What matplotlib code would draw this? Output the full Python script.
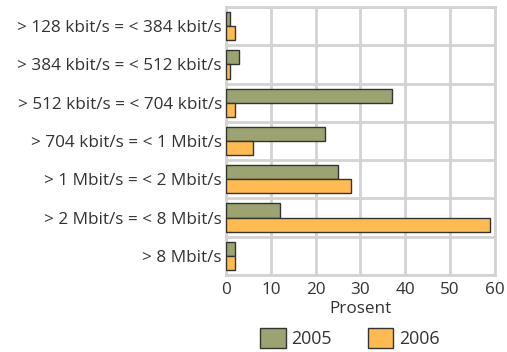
import matplotlib.pyplot as plt
import numpy as np
from matplotlib.patches import Patch

plt.rcParams['font.family'] = ['Open Sans', 'DejaVu Sans']

kategorier = ["> 128 kbit/s = < 384 kbit/s", "> 384 kbit/s = < 512 kbit/s",
              "> 512 kbit/s = < 704 kbit/s", "> 704 kbit/s = < 1 Mbit/s",
              "> 1 Mbit/s = < 2 Mbit/s", "> 2 Mbit/s = < 8 Mbit/s", "> 8 Mbit/s"]
v2005 = [1, 3, 37, 22, 25, 12, 2]
v2006 = [2, 1, 2, 6, 28, 59, 2]

fig = plt.figure(figsize=(5.07, 3.52), dpi=100)
ax = fig.add_axes([0.4458, 0.219, 0.530, 0.761])

y = np.arange(len(kategorier))
h = 0.37
ax.barh(y - h/2, v2005, height=h, color='#9ca370', edgecolor='#333333', linewidth=1, zorder=3)
ax.barh(y + h/2, v2006, height=h, color='#ffbb50', edgecolor='#333333', linewidth=1, zorder=3)

ax.set_ylim(len(kategorier) - 0.5, -0.5)
ax.set_xlim(0, 60)
ax.set_xticks(range(0, 61, 10))
ax.set_yticks(y)
ax.set_yticklabels(kategorier)
ax.set_yticks(np.arange(-0.5, len(kategorier), 1), minor=True)
ax.grid(True, axis='x', color='#d3d3d3', linewidth=2, zorder=0)
ax.grid(True, axis='y', which='minor', color='#d3d3d3', linewidth=2, zorder=0)
ax.tick_params(which='both', length=0, labelsize=12.3, labelcolor='#333333')
ax.tick_params(axis='y', pad=3)
ax.tick_params(axis='x', pad=5)
for s in ax.spines.values():
    s.set_color('#d3d3d3')
    s.set_linewidth(2)
ax.set_xlabel("Prosent", fontsize=12.3, color='#333333', labelpad=2)

handles = [Patch(facecolor='#9ca370', edgecolor='#333333'),
           Patch(facecolor='#ffbb50', edgecolor='#333333')]
fig.legend(handles, ["2005", "2006"], loc='lower center', bbox_to_anchor=(0.69, -0.035),
           ncol=2, frameon=False, fontsize=12.8, handlelength=1.45, handleheight=1.4,
           handletextpad=0.3, columnspacing=2.0, labelcolor='#333333')

fig.savefig("out.png", dpi=100)
